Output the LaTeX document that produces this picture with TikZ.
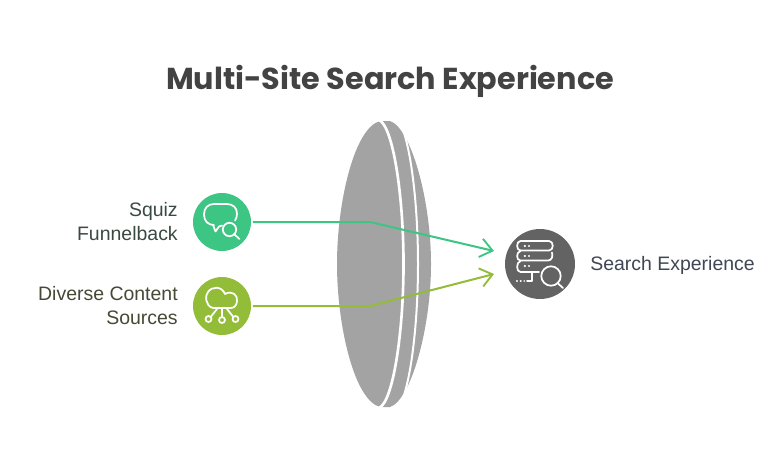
\documentclass[tikz,border=0pt]{standalone}
\usepackage{fontspec}
\setmainfont{Liberation Sans}
\newfontfamily\titlefont{Poppins}[UprightFont=* Bold]
\usetikzlibrary{arrows.meta}
\definecolor{lensgray}{HTML}{A3A3A3}
\definecolor{cgreen}{HTML}{3CC583}
\definecolor{colive}{HTML}{93BC39}
\definecolor{cdark}{HTML}{636363}
\definecolor{titlecol}{HTML}{434343}
\definecolor{lblA}{HTML}{3A4A42}
\definecolor{lblB}{HTML}{454A35}
\definecolor{lblC}{HTML}{3F4754}
\tikzset{
  badge/.style={circle,minimum size=43.5pt,inner sep=0pt},
  bigbadge/.style={circle,minimum size=52.5pt,inner sep=0pt},
  lbl/.style={font=\fontsize{14.6pt}{18pt}\selectfont,inner sep=0pt},
  conn/.style={line width=1.5pt,-{Straight Barb[length=9pt,width=14pt,line width=1.4pt]},line join=round},
  icon/.style={draw=white,line width=1.3pt,line cap=round,line join=round,fill=none},
}
\begin{document}
\begin{tikzpicture}[x=0.75pt,y=-0.75pt]
\useasboundingbox (0,0) rectangle (780,457);
\fill[white] (0,0) rectangle (780,457);
\node[font=\fontsize{22.7pt}{26pt}\selectfont\titlefont,text=titlecol,inner sep=0pt] (title) at (390,81) {Multi-Site Search Experience};
% lens
\fill[lensgray] (390,121) .. controls (411,128) and (431,200) .. (431,264)
  .. controls (431,328) and (411,400) .. (390,407)
  -- (380,407)
  .. controls (354,400) and (337,325) .. (337,264)
  .. controls (337,203) and (354,128) .. (380,121) -- cycle;
\draw[white,line width=2pt] (379,120) .. controls (393,126) and (403.5,195) .. (403.5,264)
  .. controls (403.5,333) and (393,402) .. (379,408);
\draw[white,line width=1.5pt] (403,130) .. controls (412,155) and (418,210) .. (418,264)
  .. controls (418,318) and (412,373) .. (403,398);
% badges
\node[badge,fill=cgreen] (squiz) at (222,222) {};
\node[badge,fill=colive] (diverse) at (222,306) {};
\node[bigbadge,fill=cdark] (search) at (540,264) {};
% connectors
\coordinate (t1) at (494,251);
\coordinate (t2) at (494,274);
\coordinate (b1) at (370,222);
\coordinate (b2) at (370,306);
\draw[conn,cgreen] (squiz.east) ++(1.5,0) -- (b1) -- (t1);
\draw[conn,colive] (diverse.east) ++(1.5,0) -- (b2) -- (t2);
% labels
\node[lbl,text=lblA,align=right,anchor=east] (lsquiz) at (178,221.5) {Squiz\\[-0.4pt]Funnelback};
\node[lbl,text=lblB,align=right,anchor=east] (ldiverse) at (178,305.5) {Diverse Content\\[-0.4pt]Sources};
\node[lbl,text=lblC,anchor=west] (lsearch) at (590,265) {Search Experience};
\begin{scope}[icon]
% chat + magnifier
\draw (214,225) .. controls (208,225) and (204,221) .. (204,214.5)
  .. controls (204,208) and (208,204) .. (214,204) -- (227,204)
  .. controls (233,204) and (237,208) .. (237,213.5) .. controls (237,216) and (236.5,218.5) .. (235,220.5);
\draw (213,225) -- (215.5,231.5) -- (219,226.5) -- (222,225.5);
\draw (229.5,229.5) circle (6.7);
\draw (234.3,234.3) -- (239.5,239);
% cloud + network
\draw (222,308) -- (213,308) .. controls (205,306) and (205,295) .. (208,292)
  .. controls (212,286) and (222,286) .. (225,294)
  .. controls (232,290) and (238,295) .. (237,301)
  .. controls (237,305) and (234,308) .. (231,308) -- (222,308);
\draw (222,308) -- (222,316.5);
\draw (217,309) -- (211,316.5);
\draw (227,309) -- (233,316.5);
\draw (208.5,319) circle (3);
\draw (222,320) circle (3);
\draw (235.5,319) circle (3);
% servers + magnifier
\draw (520.5,241) -- (549,241) .. controls (554,241) and (554,250.5) .. (549,250.5)
  -- (520.5,250.5) .. controls (516,250.5) and (516,241) .. (520.5,241) -- cycle;
\draw (552,252.5) .. controls (553,256) and (552,260.5) .. (548,260.5) -- (520.5,260.5)
  .. controls (516,260.5) and (516,252) .. (520.5,251);
\draw (520.5,261) .. controls (516,262) and (516,272) .. (520.5,272) -- (539,272);
\draw (532,272) -- (532,281) -- (527,281);
\fill[white,draw=none] (524.8,246) circle (1.2) (529,246) circle (1.2)
  (524.8,256) circle (1.2) (529,256) circle (1.2)
  (524.8,266) circle (1.2) (529,266) circle (1.2)
  (517,281) circle (1.1) (520.8,281) circle (1.1) (524.3,281) circle (0.9);
\draw (551,276) circle (9.7);
\draw (557.5,283) -- (563,288);
\end{scope}
\end{tikzpicture}
\end{document}
